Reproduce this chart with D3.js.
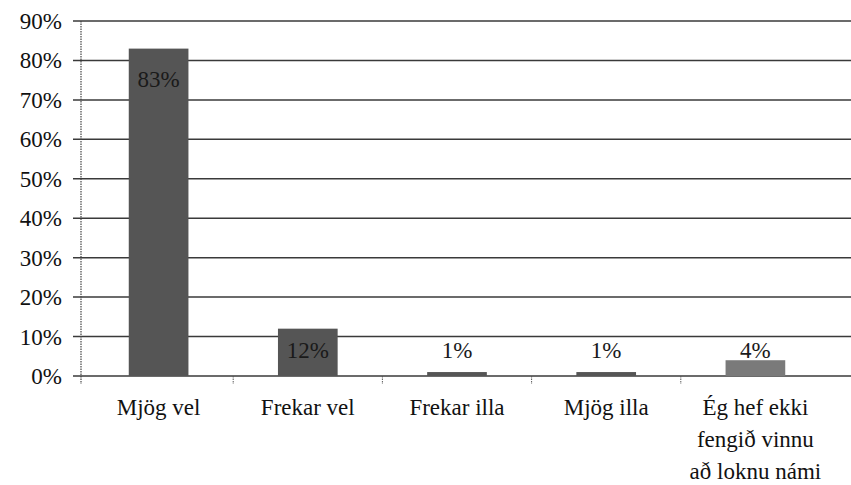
<!DOCTYPE html>
<html><head><meta charset="utf-8">
<script src="https://cdn.jsdelivr.net/npm/d3@7"></script>
<style>body{margin:0;background:#fff}svg{display:block}
svg text{font-family:"Liberation Serif","Tinos","Times New Roman","Times","Noto Serif","DejaVu Serif",serif;}</style>
</head><body>
<svg id="c" width="851" height="485"></svg>
<script>
const categories = ["Mjög vel", "Frekar vel", "Frekar illa", "Mjög illa", "Ég hef ekki fengið vinnu að loknu námi"];
const categoryLines = [["Mjög vel"], ["Frekar vel"], ["Frekar illa"], ["Mjög illa"], ["Ég hef ekki", "fengið vinnu", "að loknu námi"]];
const values = [83, 12, 1, 1, 4];
const valueLabels = ["83%", "12%", "1%", "1%", "4%"];
const yTicks = [0, 10, 20, 30, 40, 50, 60, 70, 80, 90];

const svg = d3.select("#c");
const y = d3.scaleLinear().domain([0, 90]).range([376, 21]);
const x = d3.scaleBand().domain(categories).range([84, 830]).paddingInner(0.6).paddingOuter(0.3);

// gridlines
svg.append("g").selectAll("line").data(yTicks).join("line")
  .attr("x1", 73).attr("x2", 851)
  .attr("y1", d => y(d)).attr("y2", d => y(d))
  .attr("stroke", "#3a3a3a").attr("stroke-width", 1.5);

// y axis line
svg.append("line").attr("x1", 81).attr("x2", 81).attr("y1", y(90)).attr("y2", 384)
  .attr("stroke", "#444").attr("stroke-width", 1.2).attr("stroke-dasharray", "1.5,1");

// y tick labels
svg.append("g").selectAll("text").data(yTicks).join("text")
  .attr("x", 62).attr("y", d => y(d)).attr("dy", "0.35em")
  .attr("text-anchor", "end").attr("font-size", 23)
  .attr("fill", "#111").text(d => d + "%");

// x ticks between bands
const step = x.step();
const bandEdges = categories.map((c, i) => x(c) - (step - x.bandwidth()) / 2).slice(1);
svg.append("g").selectAll("line").data(bandEdges).join("line")
  .attr("x1", d => d).attr("x2", d => d).attr("y1", 376).attr("y2", 384)
  .attr("stroke", "#555").attr("stroke-width", 1).attr("stroke-dasharray", "1.5,1");

// bars
svg.append("g").selectAll("rect").data(values).join("rect")
  .attr("x", (d, i) => x(categories[i]))
  .attr("width", x.bandwidth())
  .attr("y", d => y(d))
  .attr("height", d => y(0) - y(d))
  .attr("fill", (d, i) => i === 4 ? "#7a7a7a" : "#555");

// value labels
svg.append("g").selectAll("text").data(values).join("text")
  .attr("x", (d, i) => x(categories[i]) + x.bandwidth() / 2)
  .attr("y", d => Math.min(y(d) + 30, y(0) - 26))
  .attr("dy", "0.35em").attr("text-anchor", "middle")
  .attr("font-size", 23).attr("fill", "#1a1a1a")
  .text((d, i) => valueLabels[i]);

// category labels
const cg = svg.append("g").selectAll("text").data(categories).join("text")
  .attr("x", c => x(c) + x.bandwidth() / 2)
  .attr("y", 415)
  .attr("text-anchor", "middle").attr("font-size", 23).attr("fill", "#111");
cg.each(function(c, i) {
  d3.select(this).selectAll("tspan").data(categoryLines[i]).join("tspan")
    .attr("x", x(c) + x.bandwidth() / 2)
    .attr("dy", (d, j) => j === 0 ? 0 : 32)
    .text(d => d);
});
</script>
</body></html>
